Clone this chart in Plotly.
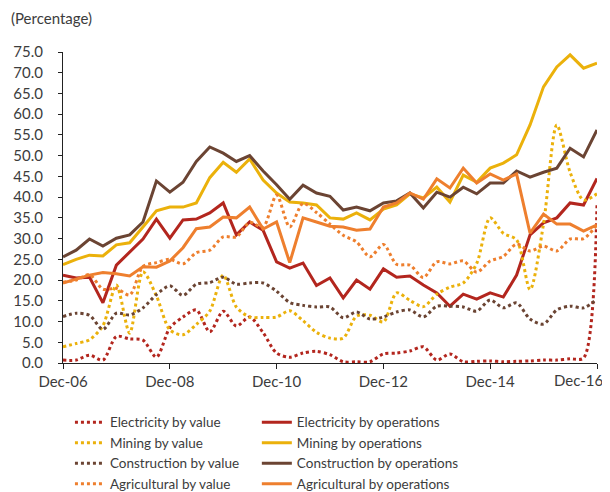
import plotly.graph_objects as go
import pandas as pd

# Quarterly observations, Dec-06 .. Dec-16 (41 quarters)
quarters = pd.date_range("2006-12-31", periods=41, freq="QE")

tick_labels = ["Dec-06", "Dec-08", "Dec-10", "Dec-12", "Dec-14", "Dec-16"]
tick_dates = ["2006-12-31", "2008-12-31", "2010-12-31", "2012-12-31", "2014-12-31", "2016-12-31"]
y_ticks = [0, 5, 10, 15, 20, 25, 30, 35, 40, 45, 50, 55, 60, 65, 70, 75]

electricity_value = [0.7, 0.7, 1.9, 0.7, 6.4, 5.8, 5.5, 1.4, 8.5, 11.1, 12.8, 7.5, 12.5, 8.9, 11.1, 7.3,
                     2.4, 1.4, 2.4, 2.8, 2.0, 0.3, 0.3, 0.3, 2.2, 2.4, 2.9, 3.9, 0.7, 2.2, 0.3, 0.4,
                     0.5, 0.3, 0.4, 0.5, 0.7, 0.7, 1.0, 1.2, 38.3]
electricity_ops = [21.2, 20.5, 20.7, 14.5, 23.6, 26.8, 29.9, 34.7, 30.1, 34.5, 34.7, 36.2, 38.6, 30.9, 34.0, 32.0,
                   24.4, 22.9, 24.1, 18.7, 20.5, 15.7, 20.0, 17.8, 22.7, 20.7, 21.0, 18.8, 16.9, 13.7, 16.6, 15.4,
                   16.9, 15.9, 21.2, 30.9, 33.8, 35.0, 38.6, 38.1, 44.5]
mining_value = [3.9, 4.7, 5.6, 9.0, 18.8, 7.2, 22.0, 16.2, 8.0, 6.8, 9.3, 12.5, 21.2, 13.5, 11.1, 11.0,
                11.1, 12.6, 10.2, 7.4, 6.0, 6.0, 11.3, 11.5, 9.9, 16.9, 15.1, 13.6, 16.6, 18.3, 19.3, 24.0,
                35.0, 31.3, 29.7, 17.7, 33.5, 57.4, 46.0, 39.3, 40.8]
mining_ops = [23.7, 25.0, 26.0, 25.8, 28.5, 29.0, 32.8, 36.7, 37.6, 37.6, 38.6, 44.7, 48.4, 46.0, 49.2, 44.1,
              41.0, 38.8, 38.6, 38.1, 35.0, 34.7, 36.2, 34.5, 37.1, 38.1, 40.8, 39.8, 42.4, 38.8, 45.3, 43.6,
              47.0, 48.2, 50.2, 57.4, 66.6, 71.4, 74.3, 71.1, 72.3]
construction_value = [11.2, 12.0, 11.5, 8.1, 12.0, 11.6, 13.3, 16.5, 18.6, 16.3, 19.0, 19.4, 20.7, 19.0, 19.3, 19.3,
                      17.3, 14.6, 13.9, 13.5, 13.5, 10.9, 12.3, 10.6, 11.1, 12.3, 12.8, 11.1, 13.7, 13.7, 13.5, 12.5,
                      15.2, 13.3, 14.5, 10.6, 9.4, 12.8, 13.7, 13.3, 15.4]
construction_ops = [25.6, 27.2, 29.9, 28.2, 30.1, 30.9, 34.0, 43.9, 41.2, 43.6, 48.6, 52.1, 50.6, 48.6, 50.0, 46.3,
                    43.0, 39.5, 42.9, 41.0, 40.2, 36.9, 37.6, 36.7, 38.6, 39.1, 41.0, 37.4, 41.2, 40.0, 42.4, 40.8,
                    43.4, 43.4, 46.3, 44.8, 46.0, 47.0, 51.8, 49.7, 56.2]
agricultural_value = [19.5, 20.0, 21.3, 17.8, 18.0, 16.4, 23.3, 24.2, 25.0, 23.9, 26.6, 27.2, 30.4, 30.4, 33.9, 32.8,
                      40.5, 32.8, 38.5, 36.3, 33.5, 30.8, 29.2, 25.6, 28.6, 23.8, 23.6, 20.6, 24.4, 23.9, 24.6, 21.9,
                      24.6, 25.7, 28.7, 27.0, 28.2, 27.0, 29.9, 30.0, 33.3]
agricultural_ops = [19.3, 20.2, 21.2, 21.8, 21.5, 21.0, 23.2, 23.1, 24.6, 27.8, 32.4, 32.8, 35.2, 35.0, 37.6, 32.3,
                    34.0, 24.2, 35.0, 34.0, 33.0, 32.8, 32.0, 32.3, 37.6, 38.6, 41.0, 39.5, 44.4, 42.2, 47.0, 43.4,
                    45.6, 44.1, 45.6, 31.3, 35.9, 33.5, 33.5, 31.8, 33.3]

RED = "#B3261E"
GOLD = "#EBB10B"
BROWN = "#6B4433"
ORANGE = "#EE7F2E"
TEXT = "#3C3C3C"
FONT = "Lato"

series = [
    ("Electricity by value", electricity_value, RED, "dot"),
    ("Electricity by operations", electricity_ops, RED, "solid"),
    ("Mining by value", mining_value, GOLD, "dot"),
    ("Mining by operations", mining_ops, GOLD, "solid"),
    ("Construction by value", construction_value, BROWN, "dot"),
    ("Construction by operations", construction_ops, BROWN, "solid"),
    ("Agricultural by value", agricultural_value, ORANGE, "dot"),
    ("Agricultural by operations", agricultural_ops, ORANGE, "solid"),
]

fig = go.Figure()
for rank, (name, vals, col, dash) in enumerate(series):
    fig.add_trace(go.Scatter(
        x=quarters, y=vals, name=name, mode="lines",
        line=dict(color=col, width=3, dash=dash,
                  shape="spline" if dash == "dot" else "linear",
                  smoothing=0.8),
        legend="legend" if dash == "dot" else "legend2",
        legendrank=rank + 1,
        cliponaxis=False,
    ))

legend_common = dict(
    orientation="v", xanchor="left", y=-0.141, yanchor="top",
    font=dict(family=FONT, size=13.5, color=TEXT),
    traceorder="normal", tracegroupgap=0, itemwidth=30,
    bgcolor="rgba(0,0,0,0)",
)

# page body adds an 8px offset; the figure starts 8px in and runs slightly past the window
fig.update_layout(
    width=602, height=500,
    margin=dict(l=55, r=13, t=44, b=145, autoexpand=False),
    paper_bgcolor="white", plot_bgcolor="white",
    font=dict(family=FONT, size=15, color=TEXT),
    showlegend=True,
    legend=dict(x=0.013, **legend_common),
    legend2=dict(x=0.363, **legend_common),
    xaxis=dict(
        range=["2006-12-31", "2016-12-31"],
        tickvals=tick_dates, ticktext=tick_labels[:-1] + [""],
        showgrid=False, zeroline=False,
        showline=True, linecolor="#222222", linewidth=1,
        ticks="outside", ticklen=5, tickcolor="#222222",
        tickfont=dict(family=FONT, size=15, color=TEXT),
    ),
    yaxis=dict(
        range=[0, 75], tickvals=y_ticks, tickformat=".1f",
        showgrid=False, zeroline=False,
        showline=True, linecolor="#222222", linewidth=1,
        ticks="outside", ticklen=4, tickcolor="#222222",
        ticklabelstandoff=12,
        tickfont=dict(family=FONT, size=15, color=TEXT),
    ),
    annotations=[
        dict(
            text="(Percentage)", xref="paper", yref="paper",
            x=-0.101, y=1.11, xanchor="left", yanchor="middle",
            showarrow=False, font=dict(family=FONT, size=15, color=TEXT),
        ),
        # last tick label, kept inside the page edge as in the source chart
        dict(
            text=tick_labels[-1], xref="x", yref="paper",
            x=tick_dates[-1], y=0, xanchor="right", yanchor="middle",
            xshift=9, yshift=-17,
            showarrow=False, font=dict(family=FONT, size=15, color=TEXT),
        ),
    ],
)

fig.write_html("out.html")
